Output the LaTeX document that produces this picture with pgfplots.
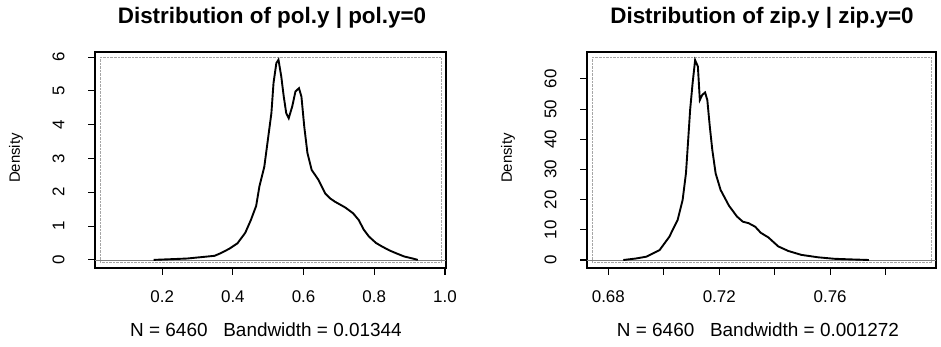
\documentclass[border=0pt]{standalone}
\usepackage{pgfplots}
\pgfplotsset{compat=1.18}
\usepackage{fontspec}
\setmainfont{Liberation Sans}
\begin{document}
\begin{tikzpicture}
\useasboundingbox (0bp,0bp) rectangle (941bp,347bp);
\pgfplotsset{dens/.style={
  scale only axis, height=216bp,
  axis line style={line width=1.8pt},
  tick align=outside, major tick length=7bp,
  tick style={black, line width=1.1pt},
  ytick pos=left, xtick pos=bottom,
  ticklabel style={font=\fontsize{17}{17}\selectfont},
  yticklabel style={rotate=90, anchor=south},
  yticklabel shift=20bp, xticklabel shift=12bp,
  /pgf/number format/assume math mode=true,
  clip=true,
}}
% ---------- left panel ----------
\begin{axis}[dens, at={(95bp,79bp)}, anchor=south west, width=351bp,
  xmin=0.01, xmax=1.003, ymin=-0.24, ymax=6.15,
  xtick={0.2,0.4,0.6,0.8,1.0},
  xticklabels={0.2,0.4,0.6,0.8,1.0},
  ytick={0,1,2,3,4,5,6}]
\draw[gray!70, densely dotted] (rel axis cs:0.014,0.025) rectangle (rel axis cs:0.986,0.975);
\draw[gray, line width=0.6pt] (rel axis cs:0,0.0362) -- (rel axis cs:1,0.0362);
\addplot[black, line width=1.9pt] coordinates {
(0.176,0) (0.27,0.04) (0.348,0.12) (0.366,0.2) (0.39,0.33) (0.413,0.49) (0.435,0.8) (0.451,1.18)
(0.466,1.6) (0.475,2.17) (0.489,2.76) (0.499,3.55) (0.509,4.34) (0.515,5.23) (0.523,5.82)
(0.529,5.92) (0.537,5.42) (0.544,4.83) (0.551,4.34) (0.558,4.19) (0.568,4.54) (0.577,4.98)
(0.587,5.08) (0.594,4.83) (0.602,3.94) (0.611,3.16) (0.623,2.66) (0.642,2.37) (0.661,1.97)
(0.675,1.82) (0.689,1.72) (0.718,1.55) (0.740,1.38) (0.756,1.18) (0.770,0.90) (0.785,0.69)
(0.805,0.50) (0.823,0.39) (0.843,0.28) (0.861,0.2) (0.885,0.10) (0.909,0.04) (0.923,0)
};
\end{axis}
% ---------- right panel ----------
\begin{axis}[dens, at={(587bp,79bp)}, anchor=south west, width=349bp,
  xmin=0.6723, xmax=0.7982, ymin=-2.65, ymax=68.9,
  xtick={0.68,0.70,0.72,0.74,0.76,0.78},
  xticklabels={0.68,,0.72,,0.76,},
  ytick={0,10,20,30,40,50,60}]
\draw[gray!70, densely dotted] (rel axis cs:0.014,0.025) rectangle (rel axis cs:0.986,0.975);
\draw[gray, line width=0.6pt] (rel axis cs:0,0.037) -- (rel axis cs:1,0.037);
\addplot[black, line width=1.9pt] coordinates {
(0.6854,0) (0.6900,0.5) (0.6937,1.1) (0.6985,3.3) (0.7020,7.7) (0.7050,13.3) (0.7068,19.9)
(0.7080,28.7) (0.7088,39.8) (0.7095,49.7) (0.7104,58.6) (0.7113,66.2) (0.7123,64.1)
(0.7130,53.0) (0.7139,54.7) (0.7149,55.5) (0.7157,53.0) (0.7166,44.2) (0.7175,36.5)
(0.7187,28.7) (0.7205,23.2) (0.7235,18.0) (0.7264,14.4) (0.7285,12.7) (0.7306,12.2)
(0.7330,11.0) (0.7350,9.0) (0.7377,7.5) (0.7413,4.5) (0.7449,3.0) (0.7496,1.7)
(0.7556,0.9) (0.7615,0.4) (0.7675,0.2) (0.7740,0)
};
\end{axis}
% ---------- titles and labels ----------
\node[font=\fontsize{22.5}{22.5}\selectfont\bfseries] at (272bp,329bp) {Distribution of pol.y | pol.y=0};
\node[font=\fontsize{22.5}{22.5}\selectfont\bfseries] at (762bp,329bp) {Distribution of zip.y | zip.y=0};
\node[font=\fontsize{15}{15}\selectfont, rotate=90] at (16bp,189bp) {Density};
\node[font=\fontsize{15}{15}\selectfont, rotate=90] at (508bp,189bp) {Density};
\node[font=\fontsize{19}{19}\selectfont] at (266bp,17bp) {N = 6460 \ \ Bandwidth = 0.01344};
\node[font=\fontsize{19}{19}\selectfont] at (758bp,17bp) {N = 6460 \ \ Bandwidth = 0.001272};
\end{tikzpicture}
\end{document}
